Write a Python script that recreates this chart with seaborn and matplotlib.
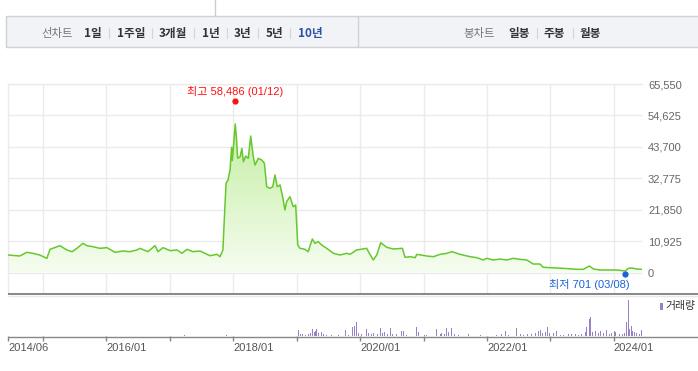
import numpy as np
import pandas as pd
import matplotlib
matplotlib.use('Agg')
import matplotlib.pyplot as plt
import matplotlib.dates as mdates
from matplotlib.colors import LinearSegmentedColormap
from matplotlib.patches import Rectangle
from matplotlib import transforms
import seaborn as sns

# values
price_dates = [
    '2014-06-13', '2014-08-20', '2014-09-30', '2014-11-03', '2014-12-13',
    '2015-01-23', '2015-02-10', '2015-04-08', '2015-05-18', '2015-06-17',
    '2015-07-15', '2015-08-19', '2015-09-10', '2015-10-15', '2015-11-24',
    '2016-01-04', '2016-02-19', '2016-04-05', '2016-05-15', '2016-06-25',
    '2016-07-12', '2016-08-27', '2016-10-07', '2016-10-24', '2016-11-22',
    '2017-01-02', '2017-02-11', '2017-03-11', '2017-04-09', '2017-05-14',
    '2017-06-23', '2017-08-19', '2017-09-29', '2017-10-16', '2017-11-02',
    '2017-11-08', '2017-11-20', '2017-12-01', '2017-12-13', '2017-12-22',
    '2017-12-26', '2018-01-12', '2018-01-19', '2018-01-26', '2018-02-09',
    '2018-02-19', '2018-02-28', '2018-03-13', '2018-03-28', '2018-04-11',
    '2018-04-26', '2018-05-06', '2018-05-25', '2018-06-14', '2018-06-29',
    '2018-07-12', '2018-07-31', '2018-08-16', '2018-08-29', '2018-09-11',
    '2018-09-27', '2018-10-12', '2018-10-25', '2018-11-04', '2018-11-23',
    '2018-12-12', '2018-12-26', '2019-01-07', '2019-01-20', '2019-02-18',
    '2019-03-08', '2019-04-01', '2019-04-16', '2019-05-05', '2019-05-25',
    '2019-06-23', '2019-07-31', '2019-09-08', '2019-10-16', '2019-11-04',
    '2019-12-12', '2020-02-08', '2020-02-18', '2020-03-17', '2020-04-06',
    '2020-04-29', '2020-06-03', '2020-07-10', '2020-09-01', '2020-09-16',
    '2020-10-15', '2020-11-13', '2020-11-23', '2021-01-20', '2021-02-27',
    '2021-04-06', '2021-05-15', '2021-06-13', '2021-07-30', '2021-09-26',
    '2021-11-03', '2021-12-11', '2021-12-31', '2022-02-07', '2022-03-17',
    '2022-04-25', '2022-06-02', '2022-07-10', '2022-08-18', '2022-09-25',
    '2022-11-02', '2022-11-21', '2022-12-30', '2023-03-17', '2023-06-03',
    '2023-07-10', '2023-08-14', '2023-09-06', '2023-10-14', '2024-01-18',
    '2024-03-08', '2024-03-25', '2024-04-14', '2024-05-13', '2024-06-10',
]
price_close = [
    6240, 5900, 7180, 6830, 6240,
    5090, 8210, 9480, 7980, 7400,
    8560, 10290, 9480, 9130, 8560,
    8790, 7180, 7630, 7400, 7980,
    8560, 7400, 9480, 7400, 8790,
    7750, 7980, 6830, 8210, 7400,
    7630, 6010, 6470, 5660, 7980,
    16060, 31100, 32250, 35700, 43590,
    39000, 51670, 46700, 39770, 40330,
    43240, 38600, 40560, 39770, 47510,
    40330, 37450, 39770, 39200, 38040,
    29940, 29370, 29940, 33990, 29940,
    30520, 26470, 21850, 24740, 26470,
    23000, 23570, 9710, 8560, 8210,
    7400, 11790, 10290, 10870, 9710,
    8560, 6830, 6240, 6830, 6470,
    7980, 8560, 7400, 4510, 6240,
    10520, 8900, 8330, 8560, 5430,
    5660, 5320, 6470, 5890, 5660,
    6470, 6830, 7400, 6470, 5660,
    5320, 4510, 5090, 4510, 4850,
    4510, 5090, 4740, 4510, 3120,
    3120, 1970, 1850, 1620, 1270,
    1270, 2430, 1390, 1040, 1040,
    701, 1620, 1740, 1390, 1270,
]
high_date, high_value = '2018-01-12', 58486
low_date, low_value = '2024-03-08', 701

vol_dates = [
    '2017-03-28', '2017-11-24',
    '2019-01-11', '2019-01-21', '2019-02-01', '2019-02-18', '2019-03-08',
    '2019-03-19', '2019-04-01', '2019-04-11', '2019-04-21', '2019-04-27',
    '2019-05-06', '2019-05-26', '2019-06-04', '2019-06-23', '2019-07-22',
    '2019-08-29', '2019-10-07', '2019-10-26', '2019-11-18', '2019-11-28',
    '2019-12-11', '2019-12-22',
    '2020-01-11', '2020-02-05', '2020-02-18', '2020-03-08', '2020-03-18',
    '2020-04-10', '2020-04-25', '2020-05-11', '2020-05-18', '2020-06-06',
    '2020-06-22', '2020-07-07', '2020-07-30', '2020-08-28', '2020-09-06',
    '2020-09-26', '2020-11-23', '2020-12-02',
    '2021-01-04', '2021-01-20', '2021-03-19', '2021-04-07', '2021-04-16',
    '2021-04-30', '2021-05-15', '2021-05-24', '2021-06-13', '2021-06-26',
    '2021-07-21', '2021-09-17', '2021-11-23',
    '2022-02-27', '2022-03-28', '2022-04-16', '2022-05-05', '2022-06-18',
    '2022-07-11', '2022-07-31', '2022-08-23', '2022-09-17', '2022-10-06',
    '2022-10-25', '2022-11-04', '2022-11-17', '2022-12-03', '2022-12-16',
    '2022-12-27',
    '2023-01-19', '2023-02-07', '2023-02-26', '2023-03-17', '2023-04-15',
    '2023-05-05', '2023-05-24', '2023-06-12', '2023-07-01', '2023-07-20',
    '2023-07-30', '2023-08-12', '2023-08-22', '2023-08-31', '2023-09-16',
    '2023-10-05', '2023-10-19', '2023-11-03', '2023-11-22', '2023-12-06',
    '2023-12-17',
    '2024-01-03', '2024-01-13', '2024-02-01', '2024-02-20', '2024-03-03',
    '2024-03-14', '2024-03-26', '2024-04-03', '2024-04-10', '2024-04-20',
    '2024-04-29', '2024-05-13', '2024-05-26', '2024-06-07',
]
vol_values = [
    10000, 10000,
    60000, 20000, 20000, 13000, 20000,
    27000, 70000, 43000, 53000, 70000,
    27000, 37000, 20000, 13000, 10000,
    10000, 60000, 10000, 93000, 100000,
    140000, 27000,
    20000, 70000, 27000, 20000, 27000,
    20000, 80000, 27000, 43000, 20000,
    80000, 20000, 20000, 47000, 47000,
    13000, 87000, 37000,
    13000, 10000, 67000, 20000, 27000,
    20000, 80000, 37000, 80000, 20000,
    13000, 20000, 10000,
    10000, 20000, 53000, 13000, 80000,
    20000, 13000, 20000, 20000, 27000,
    53000, 60000, 27000, 43000, 87000,
    27000,
    27000, 53000, 13000, 13000, 20000,
    20000, 20000, 13000, 20000, 37000,
    93000, 170000, 193000, 37000, 47000,
    27000, 53000, 27000, 60000, 20000,
    27000,
    53000, 43000, 20000, 20000, 27000,
    137000, 360000, 70000, 97000, 47000,
    43000, 27000, 20000, 60000,
]

y_ticks = [0, 10925, 21850, 32775, 43700, 54625, 65550]
grid_years = ['2015-01-01', '2016-01-01', '2017-01-01', '2018-01-01', '2019-01-01',
              '2020-01-01', '2021-01-01', '2022-01-01', '2023-01-01', '2024-01-01']
x_start, x_end = '2014-06-13', '2024-06-12'
x_label_text = {'2014-06-13': '2014/06', '2016-01-01': '2016/01', '2018-01-01': '2018/01',
                '2020-01-01': '2020/01', '2022-01-01': '2022/01', '2024-01-01': '2024/01'}

line_buttons = ['1일', '1주일', '3개월', '1년', '3년', '5년', '10년']
candle_buttons = ['일봉', '주봉', '월봉']

sns.set_theme(style='white')
plt.rcParams['font.family'] = ['Liberation Sans', 'Noto Sans CJK KR']

W, H = 698, 371
fig = plt.figure(figsize=(W / 100, H / 100), dpi=100)
fig.patch.set_facecolor('white')


def rect(x0, y0, x1, y1):
    return [x0 / W, 1 - y1 / H, (x1 - x0) / W, (y1 - y0) / H]


dates = pd.to_datetime(price_dates)
xlim = (pd.Timestamp(x_start), pd.Timestamp(x_end))
grid_c = '#ebebeb'

# price panel
ax = fig.add_axes(rect(8, 84, 642, 293))
ax.set_facecolor('white')
sns.lineplot(x=dates, y=price_close, ax=ax, color='#66c82e', linewidth=1.1, zorder=4)

poly = ax.fill_between(dates, price_close, 0, facecolor='none', edgecolor='none')
xn = mdates.date2num(dates)
grad = np.linspace(0, 1, 256).reshape(-1, 1)
cmap = LinearSegmentedColormap.from_list('fade', ['#f6fdf1', '#c4eea2'])
im = ax.imshow(grad, extent=[xn[0], xn[-1], 0, max(price_close)], origin='lower',
               aspect='auto', cmap=cmap, zorder=2)
im.set_clip_path(poly.get_paths()[0], transform=ax.transData)

ax.set_xlim(xlim)
ax.set_ylim(-6937, 65550)
ax.set_xticks(pd.to_datetime(grid_years))
ax.set_xticklabels([])
ax.set_yticks(y_ticks)
ax.set_yticklabels([f'{v:,}' for v in y_ticks])
ax.yaxis.tick_right()
ax.tick_params(axis='both', length=0)
ax.tick_params(axis='y', pad=4.3, labelsize=8, labelcolor='#666666')
ax.grid(True, color=grid_c, linewidth=1)
ax.set_axisbelow(True)
ax.set_xlabel('')
ax.set_ylabel('')
for s in ['right', 'bottom']:
    ax.spines[s].set_visible(False)
for s in ['left', 'top']:
    ax.spines[s].set_color(grid_c)
    ax.spines[s].set_linewidth(1)

hn = mdates.date2num(pd.Timestamp(high_date))
ln = mdates.date2num(pd.Timestamp(low_date))
up = transforms.offset_copy(ax.transData, fig=fig, x=0, y=3, units='dots')
down = transforms.offset_copy(ax.transData, fig=fig, x=0, y=-3, units='dots')
ax.plot([hn], [high_value], 'o', color='#ff1010', ms=4.5, mew=0, transform=up, zorder=6)
ax.plot([ln], [low_value], 'o', color='#1b62d4', ms=4.5, mew=0, transform=down, zorder=6)
hd = pd.Timestamp(high_date)
ld = pd.Timestamp(low_date)
ax.annotate(f'최고 {high_value:,} ({hd:%m/%d})', xy=(hn, high_value), xytext=(0, 12.4),
            textcoords='offset pixels', ha='center', va='center', color='#ff1010',
            fontsize=8, annotation_clip=False)
ax.annotate(f'최저 {low_value:,} ({ld:%m/%d})', xy=(ln, low_value), xytext=(4, -14),
            textcoords='offset pixels', ha='right', va='center', color='#1b62d4',
            fontsize=8, annotation_clip=False)

# volume panel
vol = fig.add_axes(rect(8, 296, 642, 336))
vol.bar(pd.to_datetime(vol_dates), vol_values, width=6, color='#9682c4', linewidth=0)
vol.set_xlim(xlim)
vol.set_ylim(0, max(vol_values) * 40 / 36)
tick_pos = [x_start] + grid_years
vol.set_xticks(pd.to_datetime(tick_pos))
vol.set_xticklabels([x_label_text.get(t, '') for t in tick_pos])
plt.setp(vol.get_xticklabels(), ha='left')
vol.set_yticks([])
vol.tick_params(axis='x', direction='out', length=3.6, width=1, color='#888888',
                pad=1.5, labelsize=8, labelcolor='#555555', bottom=True)
for s in vol.spines.values():
    s.set_visible(False)

# overlay: toolbar, separators and legend in pixel coordinates
ov = fig.add_axes([0, 0, 1, 1], zorder=10)
ov.set_xlim(0, W)
ov.set_ylim(H, 0)
ov.axis('off')
ov.patch.set_alpha(0)

ov.plot([215, 215], [0, 16], color='#cccccc', lw=1)
ov.add_patch(Rectangle((6, 16), 700, 31, facecolor='#f1f3f7', edgecolor='#cfd1d6', lw=1))
ov.plot([358, 358], [16, 47], color='#cfd1d6', lw=1)

ov.text(41, 33, '선차트', fontsize=8.2, color='#777777', va='center', ha='left',
        family='Noto Sans CJK KR')
btn_x = [84, 117, 159, 202, 234, 266, 298]
sep_x = [109, 152, 194, 227, 258, 290]
for i, (lbl, bx) in enumerate(zip(line_buttons, btn_x)):
    c = '#2a4fa6' if i == len(line_buttons) - 1 else '#333333'
    ov.text(bx, 33, lbl, fontsize=8.4, fontweight='bold', color=c, va='center', ha='left',
            family='Noto Sans CJK KR')
for sx in sep_x:
    ov.plot([sx, sx], [28, 38], color='#d5d5d5', lw=0.8)

ov.text(463, 33, '봉차트', fontsize=8.2, color='#777777', va='center', ha='left',
        family='Noto Sans CJK KR')
for lbl, bx in zip(candle_buttons, [508, 544, 580]):
    ov.text(bx, 33, lbl, fontsize=8.4, fontweight='bold', color='#333333', va='center',
            ha='left', family='Noto Sans CJK KR')
for sx in [537, 573]:
    ov.plot([sx, sx], [28, 38], color='#d5d5d5', lw=0.8)

# panel divider and volume baseline run to the right edge
ov.plot([8, W], [293.5, 293.5], color='#737373', lw=1.2, solid_capstyle='butt')
ov.plot([8, W], [295.5, 295.5], color='#e8e8e8', lw=1, solid_capstyle='butt')
ov.plot([8, W], [336.5, 336.5], color='#888888', lw=1, solid_capstyle='butt')

ov.add_patch(Rectangle((660, 302.5), 2.7, 7, facecolor='#9682c4', edgecolor='none'))
ov.text(665, 306.5, '거래량', fontsize=7.8, color='#333333', va='center', ha='left',
        family='Noto Sans CJK KR')

fig.savefig('out.png', dpi=100)
